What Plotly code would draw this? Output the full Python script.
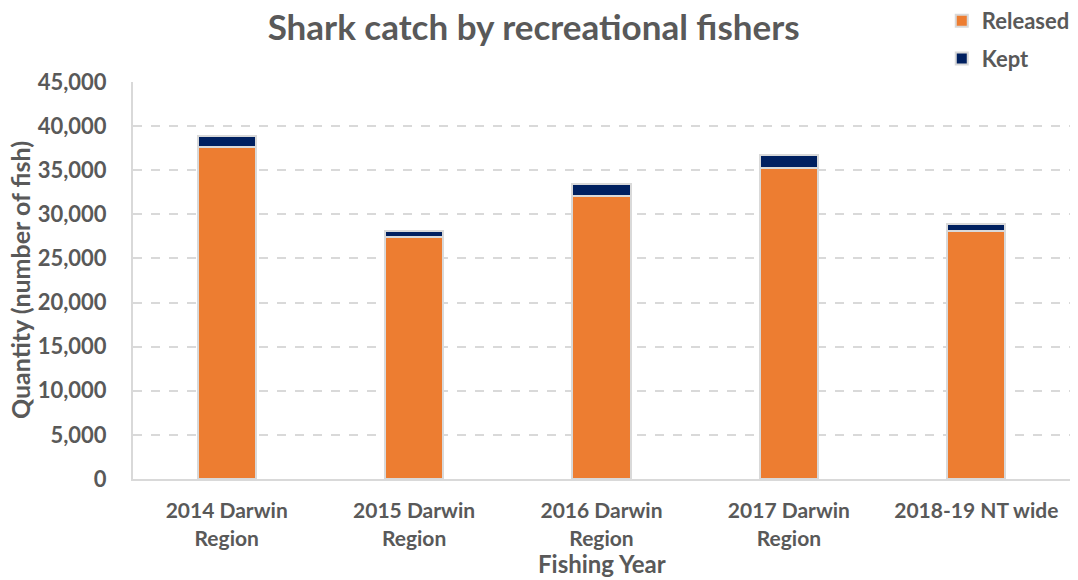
import plotly.graph_objects as go

categories = ["2014 Darwin<br>Region", "2015 Darwin<br>Region", "2016 Darwin<br>Region",
              "2017 Darwin<br>Region", "2018-19 NT wide"]
released = [37600, 27400, 32100, 35300, 28100]
kept = [1300, 700, 1300, 1400, 750]
y_ticks = [0, 5000, 10000, 15000, 20000, 25000, 30000, 35000, 40000, 45000]

TEXT = "#595959"
FONT = "Lato"

fig = go.Figure()
fig.add_trace(go.Bar(
    x=categories, y=released, name="Released",
    marker=dict(color="#ED7D31", line=dict(color="#D9D9D9", width=2)),
    legendgroup="r",
))
fig.add_trace(go.Bar(
    x=categories, y=kept, name="Kept",
    marker=dict(color="#002060", line=dict(color="#D9D9D9", width=2)),
    legendgroup="k",
))

fig.update_layout(
    width=1078, height=580,
    barmode="stack", bargap=0.69,
    plot_bgcolor="white", paper_bgcolor="white",
    margin=dict(l=133, r=8, t=82, b=101, autoexpand=False),
    font=dict(family=FONT, color=TEXT, size=20, weight="bold"),
    title=dict(text="Shark catch by recreational fishers",
               x=0.495, xanchor="center", y=0.952, yanchor="middle",
               font=dict(size=35, color=TEXT, family=FONT, weight="bold")),
    legend=dict(xref="container", yref="container",
                x=0.997, xanchor="right", y=1.012, yanchor="top",
                traceorder="grouped", tracegroupgap=6,
                font=dict(size=22, color=TEXT, family=FONT, weight="bold"),
                itemwidth=30, bgcolor="rgba(0,0,0,0)"),
    xaxis=dict(
        tickfont=dict(size=21, color=TEXT, family=FONT, weight="bold"),
        showline=True, linecolor="#D9D9D9", linewidth=2,
        ticks="", ticklabelstandoff=12,
    ),
    yaxis=dict(
        range=[0, 45000], tickvals=y_ticks, tickformat=",",
        tickfont=dict(size=22, color=TEXT, family=FONT, weight="bold"),
        showline=True, linecolor="#D9D9D9", linewidth=2,
        showgrid=True, gridcolor="#D9D9D9", gridwidth=2, griddash="dash",
        zeroline=False, ticks="", ticklabelstandoff=20,
    ),
    annotations=[
        dict(text="Fishing Year", xref="paper", yref="paper",
             x=0.5, y=-0.212, xanchor="center", yanchor="middle",
             showarrow=False,
             font=dict(size=24, color=TEXT, family=FONT, weight="bold")),
        dict(text="Quantity (number of fish)", xref="paper", yref="paper",
             x=-0.121, y=0.5, xanchor="center", yanchor="middle",
             textangle=-90, showarrow=False,
             font=dict(size=25, color=TEXT, family=FONT, weight="bold")),
    ],
)

fig.write_html("out.html")
